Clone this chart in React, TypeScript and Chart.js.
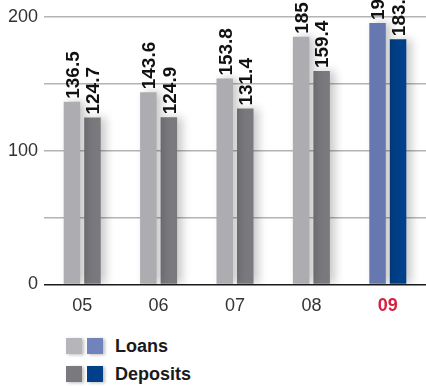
import React, { useEffect, useRef } from "react";
import { Chart, registerables } from "chart.js";

Chart.register(...registerables);

const categories = ["05", "06", "07", "08", "09"];
const loans = [136.5, 143.6, 153.8, 185, 195.3];
const deposits = [124.7, 124.9, 131.4, 159.4, 183.3];
const loanColors = ["#acacb1", "#acacb1", "#acacb1", "#acacb1", "#6777b0"];
const depositColors = ["#7a797e", "#7a797e", "#7a797e", "#7a797e", "#00408a"];
const yTickLabels = [0, 100, 200];

const FONT = "'Liberation Sans', Arial, Helvetica, sans-serif";

const shadowPlugin = {
  id: "barShadow",
  beforeDatasetDraw(chart: any) {
    const ctx = chart.ctx;
    ctx.save();
    ctx.shadowColor = "rgba(0,0,0,0.22)";
    ctx.shadowBlur = 10;
    ctx.shadowOffsetX = 5;
    ctx.shadowOffsetY = 0;
  },
  afterDatasetDraw(chart: any) {
    chart.ctx.restore();
  },
};

const labelPlugin = {
  id: "barLabels",
  afterDatasetsDraw(chart: any) {
    const ctx = chart.ctx;
    const size = 19;
    chart.data.datasets.forEach((ds: any, di: number) => {
      const meta = chart.getDatasetMeta(di);
      meta.data.forEach((bar: any, i: number) => {
        const v = ds.data[i];
        ctx.save();
        ctx.translate(bar.x, bar.y - 3);
        ctx.rotate(-Math.PI / 2);
        ctx.font = `bold ${size}px ${FONT}`;
        ctx.fillStyle = "#111";
        ctx.textAlign = "left";
        ctx.textBaseline = "alphabetic";
        ctx.fillText(String(v), 0, size * 0.716 / 2);
        ctx.restore();
      });
    });
  },
};

export default function App() {
  const ref = useRef<HTMLCanvasElement>(null);

  useEffect(() => {
    if (!ref.current) return;
    const chart = new Chart(ref.current, {
      type: "bar",
      data: {
        labels: categories,
        datasets: [
          {
            label: "Loans",
            data: loans,
            backgroundColor: loanColors,
            categoryPercentage: 0.537,
            barPercentage: 0.805,
          },
          {
            label: "Deposits",
            data: deposits,
            backgroundColor: depositColors,
            categoryPercentage: 0.537,
            barPercentage: 0.805,
          },
        ],
      },
      options: {
        animation: false,
        responsive: false,
        maintainAspectRatio: false,
        layout: { padding: { top: 16, right: 0, bottom: 4, left: 0 } },
        plugins: {
          legend: { display: false },
          tooltip: { enabled: false },
        },
        scales: {
          x: {
            grid: { display: false, drawTicks: false },
            border: { display: false },
            ticks: {
              padding: 11,
              color: (c: any) => (c.index === 4 ? "#d91f3d" : "#333"),
              font: (c: any) => ({
                family: FONT,
                size: 18,
                weight: c.index === 4 ? "bold" : "normal",
              }),
            },
          },
          y: {
            min: 0,
            max: 200,
            afterFit: (axis: any) => {
              axis.width = 44;
            },
            grid: {
              drawTicks: false,
              color: (c: any) => (c.tick && c.tick.value === 0 ? "#1a1a1a" : "#b4b4b4"),
              lineWidth: 1.5,
            },
            border: { display: false },
            ticks: {
              stepSize: 50,
              padding: 6,
              color: "#333",
              font: { family: FONT, size: 18 },
              callback: (v: any) => (yTickLabels.includes(Number(v)) ? String(v) : ""),
            },
          },
        },
      },
      plugins: [shadowPlugin, labelPlugin],
    });
    return () => chart.destroy();
  }, []);

  const sq = (color: string, left: number) => (
    <div
      style={{
        position: "absolute",
        left,
        top: 0,
        width: 16,
        height: 16,
        background: color,
        boxShadow: "2px 1px 3px rgba(0,0,0,0.25)",
      }}
    />
  );

  const row = (top: number, c1: string, c2: string, text: string) => (
    <div style={{ position: "absolute", left: 0, top, width: 426, height: 16 }}>
      {sq(c1, 66)}
      {sq(c2, 87)}
      <div
        style={{
          position: "absolute",
          left: 115,
          top: 0,
          height: 16,
          display: "flex",
          alignItems: "center",
          fontFamily: FONT,
          fontWeight: "bold",
          fontSize: 18,
          color: "#1a1a1a",
          whiteSpace: "nowrap",
        }}
      >
        {text}
      </div>
    </div>
  );

  return (
    <div
      style={{
        position: "absolute",
        left: 0,
        top: 0,
        width: 426,
        height: 386,
        background: "#fff",
        overflow: "hidden",
      }}
    >
      <canvas ref={ref} width={426} height={332} style={{ display: "block" }} />
      {row(338, "#b5b5ba", "#7282bb", "Loans")}
      {row(366, "#7a797e", "#00408a", "Deposits")}
    </div>
  );
}
